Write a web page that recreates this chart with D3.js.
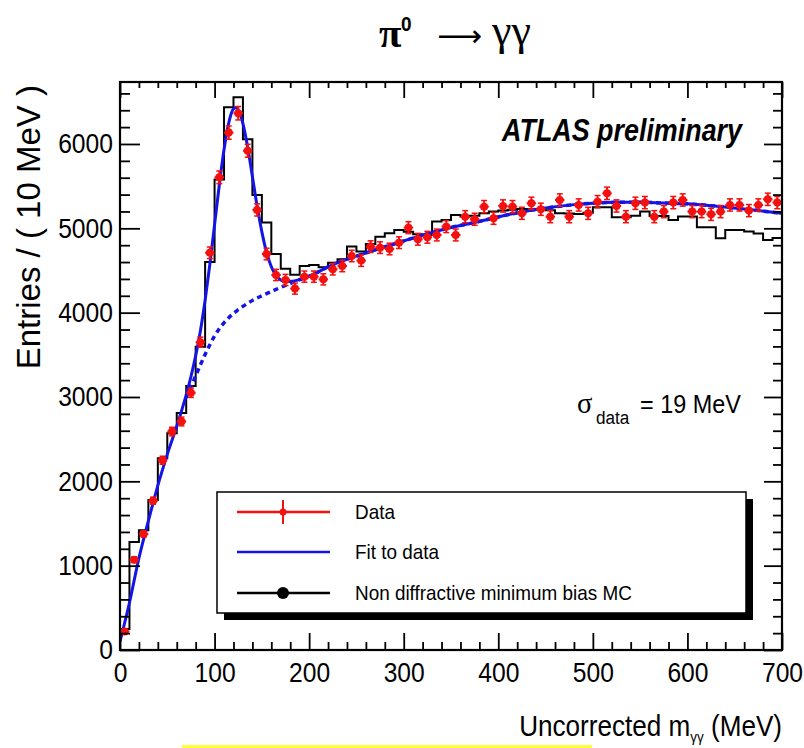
<!DOCTYPE html>
<html>
<head>
<meta charset="utf-8">
<script src="https://cdn.jsdelivr.net/npm/d3@7"></script>
<style>
    body { margin: 0; background: #fff; }
    text { font-family: "Liberation Sans", Arial, Helvetica, sans-serif; fill: #000; }
</style>
</head>
<body>
<div id="chart-container"></div>
<script>
// Bin lower edges (10 MeV bins, 0..700 MeV)
const binLow = d3.range(0, 700, 10);

// MC histogram (black), one value per bin
const mcCounts = [250, 1280, 1420, 1780, 2275, 2570, 2810, 3130, 3595, 4600,
    5580, 6435, 6555, 6055, 5395, 5070, 4695, 4520, 4450, 4553,
    4565, 4538, 4593, 4633, 4783, 4724, 4815, 4901, 4941, 4980,
    4960, 4930, 4920, 5080, 5100, 5158, 5140, 5150, 5180, 5200,
    5210, 5220, 5230, 5226, 5226, 5215, 5180, 5175, 5170, 5185,
    5250, 5250, 5131, 5131, 5150, 5198, 5146, 5146, 5099, 5140,
    5140, 5012, 5012, 4882, 4980, 4980, 4961, 4940, 4862, 4885];

// Data points (red), at bin centres
const dataCounts = [220, 1070, 1375, 1770, 2250, 2590, 2710, 3050, 3650, 4710,
    5605, 6135, 6365, 5920, 5218, 4695, 4447, 4388, 4285, 4427,
    4427, 4395, 4514, 4553, 4672, 4617, 4783, 4771, 4755, 4830,
    5008, 4870, 4894, 4921, 5020, 4921, 5138, 5107, 5257, 5119,
    5265, 5257, 5178, 5297, 5226, 5138, 5336, 5138, 5277, 5178,
    5316, 5415, 5265, 5138, 5297, 5305, 5138, 5198, 5305, 5336,
    5198, 5198, 5166, 5198, 5277, 5277, 5210, 5277, 5344, 5305];

// Fit to data (solid blue)
const fitMass = [0, 10, 20, 30, 40, 50, 60, 65, 70, 75, 80, 85, 90, 95, 100, 105, 110, 115, 120, 122,
    125, 130, 135, 140, 145, 150, 155, 160, 165, 170, 175, 180, 190, 200, 225, 250, 275, 300,
    325, 350, 375, 400, 425, 450, 475, 500, 525, 550, 575, 600, 625, 650, 675, 700];
const fitValues = [100, 560, 1090, 1530, 1950, 2320, 2654, 2832, 3026, 3240, 3487, 3783, 4147, 4573, 5044, 5514, 5935, 6251, 6417, 6430,
    6406, 6242, 5962, 5614, 5264, 4958, 4715, 4545, 4441, 4387, 4368, 4370, 4392, 4432, 4570, 4670, 4763, 4850,
    4935, 5010, 5070, 5135, 5195, 5240, 5275, 5298, 5308, 5310, 5300, 5290, 5268, 5240, 5210, 5178];

// Background part of the fit (dotted blue)
const bgMass = [70, 75, 80, 85, 90, 95, 100, 105, 110, 115, 120, 125, 130, 140, 150, 160, 170, 180, 190, 200];
const bgValues = [2990, 3120, 3250, 3380, 3505, 3620, 3725, 3810, 3880, 3940, 3990, 4035, 4075, 4145, 4200, 4250, 4300, 4345, 4392, 4432];

// Axis ticks
const xMajor = [0, 100, 200, 300, 400, 500, 600, 700];
const xMinor = d3.range(0, 701, 20).filter(v => v % 100 !== 0);
const yMajor = [0, 1000, 2000, 3000, 4000, 5000, 6000];
const yMinor = d3.range(0, 6701, 200).filter(v => v % 1000 !== 0);

// Legend entries
const legendLabels = ['Data', 'Fit to data', 'Non diffractive minimum bias MC'];

const width = 804;
const height = 748;
const frame = { left: 120, right: 782, top: 82, bottom: 650 };
const serif = '"Liberation Serif", "Times New Roman", serif';

const xScale = d3.scaleLinear().domain([0, 700]).range([frame.left, frame.right]);
const yScale = d3.scaleLinear().domain([0, 6735]).range([frame.bottom, frame.top]);

const svg = d3.select('#chart-container')
    .append('svg')
    .attr('width', width)
    .attr('height', height);

svg.append('rect').attr('width', width).attr('height', height).attr('fill', '#fff');

// text squeezed a bit horizontally, like the narrow ROOT fonts
function label(x, y, str, size, sx) {
    return svg.append('text')
        .attr('transform', `translate(${x},${y}) scale(${sx},1)`)
        .style('font-size', size + 'px')
        .text(str);
}

svg.append('clipPath').attr('id', 'plot-clip')
    .append('rect')
    .attr('x', frame.left).attr('y', frame.top)
    .attr('width', frame.right - frame.left).attr('height', frame.bottom - frame.top);

const plot = svg.append('g').attr('clip-path', 'url(#plot-clip)');

// MC histogram
const histPts = binLow.map((b, i) => [b, mcCounts[i]]);
histPts.push([700, mcCounts[mcCounts.length - 1]]);
plot.append('path')
    .datum(histPts)
    .attr('d', d3.line().x(d => xScale(d[0])).y(d => yScale(d[1])).curve(d3.curveStepAfter))
    .attr('fill', 'none')
    .attr('stroke', '#000')
    .attr('stroke-width', 2);

// Background (dotted), continuing under the full fit
const bgPts = bgMass.map((m, i) => [m, bgValues[i]])
    .concat(fitMass.map((m, i) => [m, fitValues[i]]).filter(d => d[0] > 200));
const curveLine = d3.line().x(d => xScale(d[0])).y(d => yScale(d[1])).curve(d3.curveMonotoneX);

plot.append('path')
    .datum(bgPts)
    .attr('d', curveLine)
    .attr('fill', 'none')
    .attr('stroke', '#1414e6')
    .attr('stroke-width', 3.5)
    .attr('stroke-dasharray', '5,4');

// Fit
plot.append('path')
    .datum(fitMass.map((m, i) => [m, fitValues[i]]))
    .attr('d', curveLine)
    .attr('fill', 'none')
    .attr('stroke', '#1414e6')
    .attr('stroke-width', 3);

// Data points with error bars
const red = '#f51010';
const pts = plot.selectAll('g.pt')
    .data(dataCounts.map((v, i) => ({ m: binLow[i] + 5, v: v, e: Math.sqrt(v) })))
    .enter().append('g').attr('class', 'pt');

pts.append('line')
    .attr('x1', d => xScale(d.m - 5)).attr('x2', d => xScale(d.m + 5))
    .attr('y1', d => yScale(d.v)).attr('y2', d => yScale(d.v))
    .attr('stroke', red).attr('stroke-width', 2);
pts.append('line')
    .attr('x1', d => xScale(d.m)).attr('x2', d => xScale(d.m))
    .attr('y1', d => yScale(d.v - d.e)).attr('y2', d => yScale(d.v + d.e))
    .attr('stroke', red).attr('stroke-width', 2);
[-1, 1].forEach(s => {
    pts.append('line')
        .attr('x1', d => xScale(d.m) - 3).attr('x2', d => xScale(d.m) + 3)
        .attr('y1', d => yScale(d.v + s * d.e)).attr('y2', d => yScale(d.v + s * d.e))
        .attr('stroke', red).attr('stroke-width', 1.5);
});
pts.append('circle')
    .attr('cx', d => xScale(d.m)).attr('cy', d => yScale(d.v))
    .attr('r', 4).attr('fill', red);

// Axes (ROOT style ticks, pointing inwards)
function styleAxis(g) {
    g.select('.domain').remove();
    g.selectAll('.tick line').attr('stroke', '#000').attr('stroke-width', 1.8);
    g.selectAll('.tick text').style('font-size', '28px').attr('transform', 'scale(0.88,1)');
}

svg.append('g').attr('transform', `translate(0,${frame.bottom})`)
    .call(d3.axisBottom(xScale).tickValues(xMajor).tickSize(-17).tickSizeOuter(0).tickPadding(12).tickFormat(d3.format('d')))
    .call(styleAxis);
svg.append('g').attr('transform', `translate(0,${frame.bottom})`)
    .call(d3.axisBottom(xScale).tickValues(xMinor).tickSize(-8).tickSizeOuter(0).tickFormat(''))
    .call(styleAxis);
svg.append('g').attr('transform', `translate(0,${frame.top})`)
    .call(d3.axisTop(xScale).tickValues(xMajor).tickSize(-16).tickSizeOuter(0).tickFormat(''))
    .call(styleAxis);
svg.append('g').attr('transform', `translate(0,${frame.top})`)
    .call(d3.axisTop(xScale).tickValues(xMinor).tickSize(-6).tickSizeOuter(0).tickFormat(''))
    .call(styleAxis);

svg.append('g').attr('transform', `translate(${frame.left},0)`)
    .call(d3.axisLeft(yScale).tickValues(yMajor).tickSize(-20).tickSizeOuter(0).tickPadding(8).tickFormat(d3.format('d')))
    .call(styleAxis);
svg.append('g').attr('transform', `translate(${frame.left},0)`)
    .call(d3.axisLeft(yScale).tickValues(yMinor).tickSize(-10).tickSizeOuter(0).tickFormat(''))
    .call(styleAxis);
svg.append('g').attr('transform', `translate(${frame.right},0)`)
    .call(d3.axisRight(yScale).tickValues(yMajor).tickSize(-18).tickSizeOuter(0).tickFormat(''))
    .call(styleAxis);
svg.append('g').attr('transform', `translate(${frame.right},0)`)
    .call(d3.axisRight(yScale).tickValues(yMinor).tickSize(-9).tickSizeOuter(0).tickFormat(''))
    .call(styleAxis);

// Frame
svg.append('rect')
    .attr('x', frame.left).attr('y', frame.top)
    .attr('width', frame.right - frame.left).attr('height', frame.bottom - frame.top)
    .attr('fill', 'none').attr('stroke', '#000').attr('stroke-width', 2.2);

// Axis titles
const xTitle = label(frame.right, 736, '', 29, 0.9).attr('text-anchor', 'end');
xTitle.append('tspan').text('Uncorrected m');
xTitle.append('tspan').attr('dy', 6).style('font-size', '15px').text('γγ');
xTitle.append('tspan').attr('dy', -6).text(' (MeV)');

svg.append('text')
    .attr('transform', `translate(40,${frame.top + 3}) rotate(-90)`)
    .attr('text-anchor', 'end')
    .style('font-size', '33px')
    .text('Entries / ( 10 MeV )');

// Title
label(379, 47, 'π', 41, 1).style('font-family', serif).style('font-weight', 'bold');
label(401, 31, '0', 20, 0.95).style('font-weight', 'bold');
svg.append('text').attr('x', 437).attr('y', 46)
    .style('font-family', '"DejaVu Sans", sans-serif').style('font-size', '30px')
    .attr('textLength', 45).attr('lengthAdjust', 'spacingAndGlyphs')
    .text('⟶');
label(492, 45, 'γγ', 44, 1).style('font-family', serif);

// ATLAS label
label(742, 141, 'ATLAS preliminary', 32, 0.84)
    .attr('text-anchor', 'end')
    .style('font-weight', 'bold').style('font-style', 'italic');

// Resolution label
label(577, 413, 'σ', 30, 0.95).style('font-family', serif);
label(596, 424, 'data', 19, 0.9);
label(640, 413, '= 19 MeV', 26, 0.9);

// Legend
const legend = svg.append('g').attr('class', 'legend');
const box = { x: 217, y: 492, w: 529, h: 121, shadow: 6 };
legend.append('rect')
    .attr('x', box.x + box.shadow + 1).attr('y', box.y + box.shadow + 1)
    .attr('width', box.w).attr('height', box.h)
    .attr('fill', '#000');
legend.append('rect')
    .attr('x', box.x).attr('y', box.y)
    .attr('width', box.w).attr('height', box.h)
    .attr('fill', '#fff').attr('stroke', '#000').attr('stroke-width', 1.5);

const rowY = [512, 552, 593];
const rowColor = [red, '#1414e6', '#000'];
legendLabels.forEach((txt, i) => {
    legend.append('line')
        .attr('x1', 237).attr('x2', 330)
        .attr('y1', rowY[i]).attr('y2', rowY[i])
        .attr('stroke', rowColor[i]).attr('stroke-width', 2.5);
    legend.append('text')
        .attr('transform', `translate(355,${rowY[i] + 7}) scale(0.9,1)`)
        .style('font-size', '21px')
        .text(txt);
});
legend.append('line')
    .attr('x1', 283).attr('x2', 283)
    .attr('y1', rowY[0] - 12).attr('y2', rowY[0] + 12)
    .attr('stroke', red).attr('stroke-width', 2);
legend.append('circle').attr('cx', 283).attr('cy', rowY[0]).attr('r', 3.5).attr('fill', red);
legend.append('circle').attr('cx', 283).attr('cy', rowY[2]).attr('r', 6).attr('fill', '#000');

// thin yellow strip at the bottom edge of the picture
svg.append('rect').attr('x', 182).attr('y', 745).attr('width', 410).attr('height', 3).attr('fill', '#ffff3c');
</script>
</body>
</html>
